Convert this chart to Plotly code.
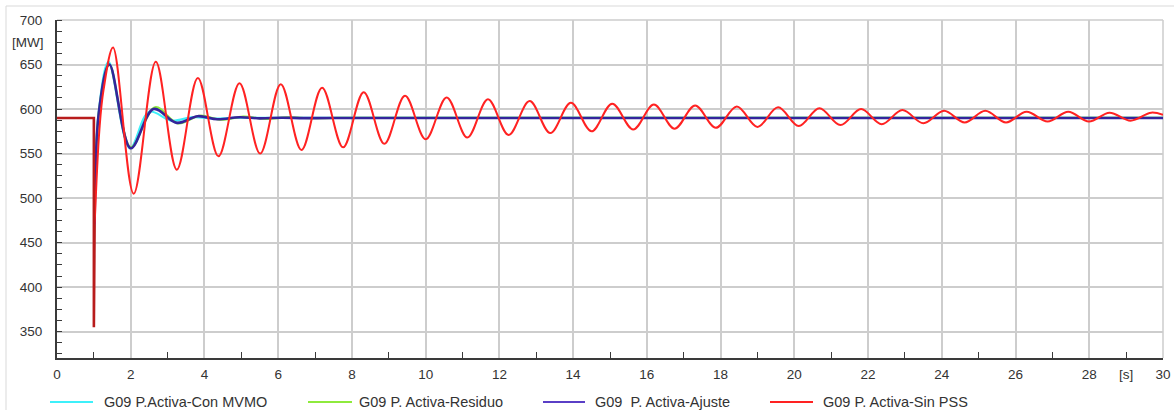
import plotly.graph_objects as go

# ---------------- data ----------------
names = ["G09 P.Activa-Con MVMO", "G09 P. Activa-Residuo",
         "G09\u00a0 P. Activa-Ajuste", "G09 P. Activa-Sin PSS"]
colors = ["#3ef0fa", "#8eea3c", "#33259c", "#ff2222"]
widths = [2.2, 2.2, 2.6, 2.0]

# pre-fault and fault spike (common to all series)
fault_t = [0, 1.0, 1.0, 1.02]
fault_v = [590, 590, 355, 470]

# post-fault responses (extrema)
mvmo_t = [1.02, 1.13, 1.40, 1.98, 2.50, 3.10, 3.70, 4.30, 5.00, 6.00, 30]
mvmo_v = [470, 596, 653, 556, 597, 587, 591, 589.3, 590.3, 590, 590]

resid_t = [1.02, 1.14, 1.42, 2.00, 2.66, 3.28, 3.88, 4.45, 5.05, 5.65, 6.25, 6.90, 7.60, 8.50, 30]
resid_v = [470, 598, 650, 557, 602, 584, 592.5, 588, 591.5, 589, 590.8, 589.7, 590.2, 590, 590]

ajus_t = [1.02, 1.14, 1.42, 2.00, 2.62, 3.25, 3.82, 4.35, 4.95, 5.50, 6.10, 6.70, 7.50, 30]
ajus_v = [470, 598, 650, 556, 600, 584.5, 592, 588.5, 590.8, 589.6, 590.3, 589.8, 590, 590]

sinpss_t = [1.02, 1.15, 1.26, 1.52, 2.08, 2.68, 3.25, 3.82, 4.38, 4.95, 5.51, 6.07, 6.63,
            7.19, 7.76, 8.32, 8.88, 9.44, 10.00, 10.57, 11.13, 11.69, 12.25, 12.82, 13.38,
            13.94, 14.50, 15.06, 15.63, 16.19, 16.75, 17.31, 17.87, 18.44, 19.00, 19.56,
            20.12, 20.68, 21.25, 21.81, 22.37, 22.93, 23.50, 24.06, 24.62, 25.18, 25.74,
            26.30, 26.87, 27.43, 27.99, 28.55, 29.12, 29.68, 30.0]
sinpss_v = [470, 577, 621, 669, 505, 653, 532, 635, 547, 629, 550, 628, 554,
            624, 557, 619, 561, 615, 566, 613, 568, 611, 571, 609, 573,
            607, 575, 606, 577, 605, 578, 604, 579, 603, 580, 602,
            581, 601, 582, 600, 583, 599, 584, 598, 585, 598, 585,
            597, 586, 597, 586, 596, 587, 596, 593.5]

resp_t = [mvmo_t, resid_t, ajus_t, sinpss_t]
resp_v = [mvmo_v, resid_v, ajus_v, sinpss_v]

x_ticks = list(range(0, 31, 2))
x_ticktext = [str(v) for v in x_ticks]
x_minor = list(range(1, 30, 2))
y_ticks = list(range(350, 701, 50))
y_ticktext = [str(v) for v in y_ticks]

# ---------------- layout helpers ----------------
W, H = 1174, 410
PL, PR, PT, PB = 57, 11, 20, 52
PW, PH = W - PL - PR, H - PT - PB


def xp(px):
    return (px - PL) / PW


def yp(py):
    return (PT + PH - py) / PH


FONT = "Liberation Sans, Arial, sans-serif"
TXT = "#333333"
GRID = "#cdcdcd"
FAULT_RED = "#b81c1c"

fig = go.Figure()
for i in range(4):
    fig.add_trace(go.Scatter(x=resp_t[i], y=resp_v[i], mode="lines", name=names[i],
                             line=dict(color=colors[i], width=widths[i],
                                       shape="spline", smoothing=1.0),
                             showlegend=False))
# common pre-fault / fault segment drawn on top (appears dark red in the reference)
fig.add_trace(go.Scatter(x=fault_t, y=fault_v, mode="lines",
                         line=dict(color=FAULT_RED, width=2.6),
                         showlegend=False, hoverinfo="skip"))

shapes = []
# plot area top/right border (grid colour)
shapes.append(dict(type="line", xref="paper", yref="paper", x0=0, x1=1, y0=1, y1=1,
                   line=dict(color=GRID, width=1.5), layer="below"))
shapes.append(dict(type="line", xref="paper", yref="paper", x0=1, x1=1, y0=0, y1=1,
                   line=dict(color=GRID, width=1.5), layer="below"))
# outer frame (left and top)
shapes.append(dict(type="line", xref="paper", yref="paper", x0=xp(6), x1=xp(6),
                   y0=yp(6), y1=yp(410), line=dict(color="#d9d9d9", width=1)))
shapes.append(dict(type="line", xref="paper", yref="paper", x0=xp(6), x1=xp(1174),
                   y0=yp(6), y1=yp(6), line=dict(color="#d9d9d9", width=1)))

annotations = []
# custom legend
leg_line = [(50, 93), (308, 352), (543, 585), (770, 813)]
leg_text = [102, 357, 593, 821]
leg_y = 402
for i in range(4):
    shapes.append(dict(type="line", xref="paper", yref="paper",
                       x0=xp(leg_line[i][0]), x1=xp(leg_line[i][1]),
                       y0=yp(leg_y), y1=yp(leg_y),
                       line=dict(color=colors[i] if i != 2 else "#5a3fc6", width=2)))
    annotations.append(dict(xref="paper", yref="paper", x=xp(leg_text[i]), y=yp(leg_y),
                            text=names[i], showarrow=False, xanchor="left",
                            yanchor="middle", font=dict(family=FONT, size=14.5, color=TXT)))

# unit labels
annotations.append(dict(xref="paper", yref="y", x=xp(46), y=675, text="[MW]",
                        showarrow=False, xanchor="right", yanchor="middle",
                        font=dict(family=FONT, size=13.5, color=TXT)))
annotations.append(dict(xref="x", yref="paper", x=29, y=yp(374), text="[s]",
                        showarrow=False, xanchor="center", yanchor="middle",
                        font=dict(family=FONT, size=13.5, color=TXT)))

fig.update_layout(
    width=W, height=H,
    margin=dict(l=PL, r=PR, t=PT, b=PB, autoexpand=False),
    paper_bgcolor="white", plot_bgcolor="white",
    showlegend=False,
    shapes=shapes, annotations=annotations,
    xaxis=dict(range=[0, 30], tickvals=x_ticks, ticktext=x_ticktext,
               showgrid=True, gridcolor=GRID, gridwidth=1.5, zeroline=False,
               showline=True, linecolor="#3a3a3a", linewidth=2,
               ticks="", ticklabelstandoff=3,
               tickfont=dict(family=FONT, size=13.5, color=TXT),
               minor=dict(tickvals=x_minor, ticks="inside", ticklen=6,
                          tickcolor="#3a3a3a", tickwidth=1, showgrid=False)),
    yaxis=dict(range=[320.5, 700], tickvals=y_ticks, ticktext=y_ticktext,
               showgrid=True, gridcolor=GRID, gridwidth=1.5, zeroline=False,
               showline=True, linecolor="#3a3a3a", linewidth=2,
               ticks="", ticklabelstandoff=10,
               tickfont=dict(family=FONT, size=13.5, color=TXT),
               minor=dict(dtick=12.5, tick0=350, ticks="inside", ticklen=5,
                          tickcolor="#3a3a3a", tickwidth=1, showgrid=False)),
)

fig.write_html("out.html")
